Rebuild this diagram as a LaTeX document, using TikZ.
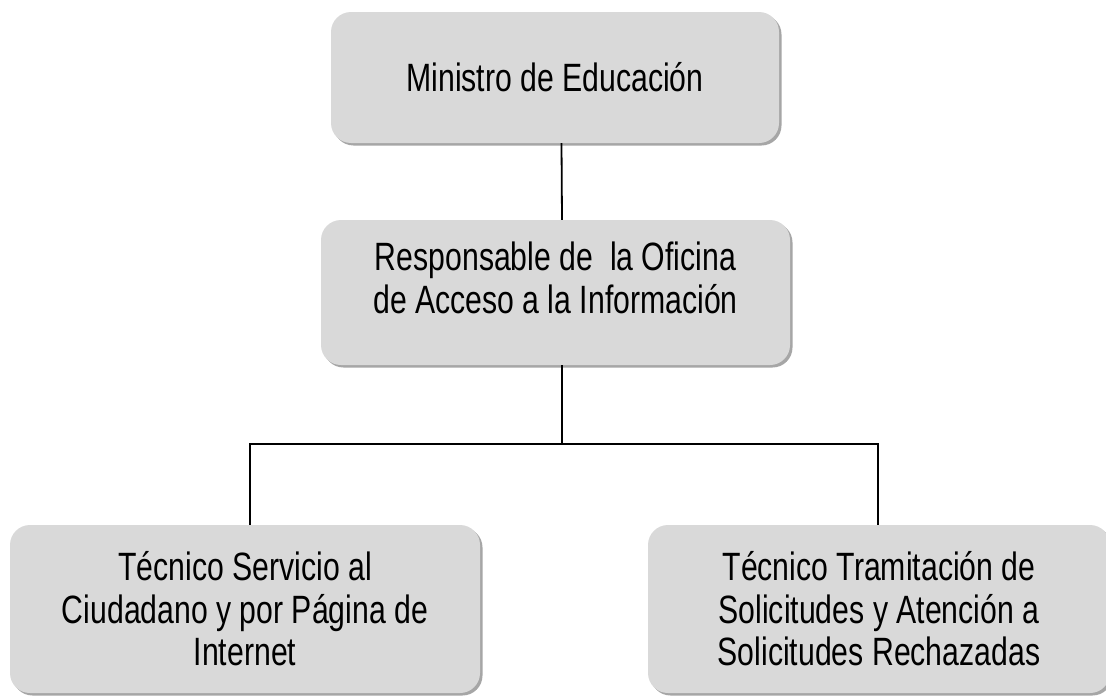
\documentclass[tikz,border=0pt]{standalone}
\usepackage{fontspec}
\setmainfont{Liberation Sans}[FakeStretch=0.765]
\usetikzlibrary{shadows}
\definecolor{boxgray}{HTML}{D9D9D9}
\definecolor{shadowgray}{HTML}{A6A6A6}
\begin{document}
\begin{tikzpicture}[x=1pt,y=-1pt,
  orgbox/.style={rectangle, rounded corners=20pt, fill=boxgray, draw=none,
    inner sep=0pt, align=center,
    font=\fontsize{39.5}{42.5}\selectfont,
    drop shadow={shadow xshift=2.5pt, shadow yshift=-2.5pt, fill=shadowgray, opacity=1}},
  link/.style={draw=black, line width=1.8pt}]
\useasboundingbox (0,0) rectangle (1106,696);
\node[orgbox, minimum width=448pt, minimum height=131pt] (m) at (555,77.5) {Ministro de Educación};
\node[orgbox, minimum width=469pt, minimum height=145pt] (r) at (555.5,292.5) {Responsable de \ la Oficina\\de Acceso a la Información\\[-26pt]\strut};
\node[orgbox, minimum width=470pt, minimum height=168pt] (a) at (245,609) {Técnico Servicio al\\Ciudadano y por Página de\\Internet};
\node[orgbox, minimum width=462pt, minimum height=168pt] (b) at (879,609) {Técnico Tramitación de\\Solicitudes y Atención a\\Solicitudes Rechazadas};
\coordinate (j) at (562,444);
\draw[link] ([xshift=6.5pt]m.south) -- ([xshift=6.5pt]r.north);
\draw[link] ([xshift=6.5pt]r.south) -- (j);
\draw[link] ([xshift=5pt]a.north) |- (j) -| ([xshift=-1pt]b.north);
\end{tikzpicture}
\end{document}
